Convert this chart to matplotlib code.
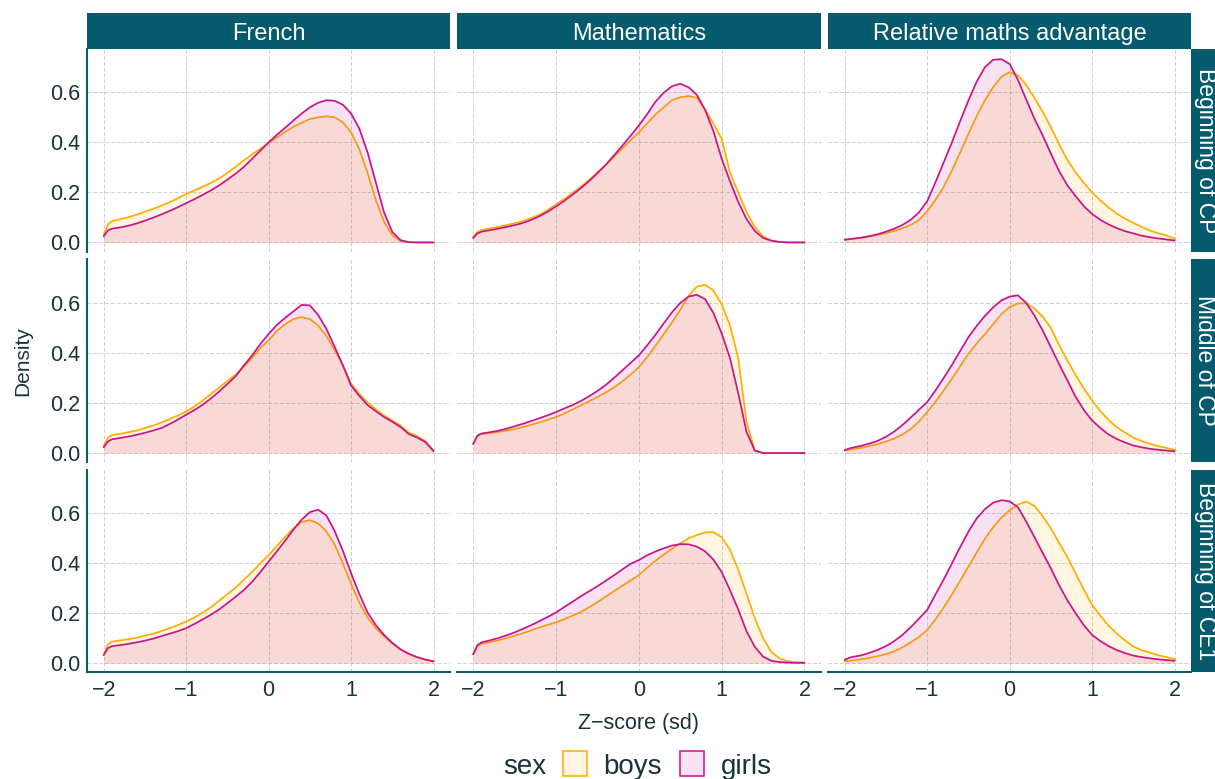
import matplotlib
matplotlib.use("Agg")
import matplotlib.pyplot as plt
from matplotlib.patches import Rectangle

plt.rcParams['font.family'] = ['Liberation Sans', 'DejaVu Sans']

# ---------------- data ----------------
X = [-2.0, -1.95, -1.9, -1.8, -1.7, -1.6, -1.5, -1.4, -1.3, -1.2, -1.1, -1.0,
     -0.9, -0.8, -0.7, -0.6, -0.5, -0.4, -0.3, -0.2, -0.1,
     0.0,
     0.1, 0.2, 0.3, 0.4, 0.5, 0.6, 0.7, 0.8, 0.9, 1.0,
     1.1, 1.2, 1.3, 1.4, 1.5, 1.6, 1.7, 1.8, 1.9, 2.0]

subjects = ["French", "Mathematics", "Relative maths advantage"]
periods = ["Beginning of CP", "Middle of CP", "Beginning of CE1"]
sexes = ["boys", "girls"]
x_ticks = [-2, -1, 0, 1, 2]
y_ticks = [0.0, 0.2, 0.4, 0.6]
y_tick_labels = ["0.0", "0.2", "0.4", "0.6"]

# Beginning of CP
FR1_B = [0.030, 0.072, 0.085, 0.093, 0.101, 0.111, 0.123, 0.134, 0.147, 0.161, 0.177, 0.194,
         0.208, 0.222, 0.238, 0.256, 0.278, 0.302, 0.328, 0.352, 0.375,
         0.397,
         0.420, 0.442, 0.462, 0.478, 0.493, 0.500, 0.504, 0.500, 0.480, 0.440,
         0.372, 0.278, 0.170, 0.082, 0.028, 0.006, 0.001, 0.0, 0.0, 0.0]
FR1_G = [0.025, 0.048, 0.055, 0.060, 0.067, 0.076, 0.087, 0.099, 0.112, 0.126, 0.141, 0.157,
         0.173, 0.190, 0.208, 0.228, 0.251, 0.275, 0.302, 0.334, 0.367,
         0.400,
         0.430, 0.458, 0.487, 0.515, 0.540, 0.558, 0.568, 0.566, 0.550, 0.515,
         0.455, 0.360, 0.240, 0.120, 0.042, 0.009, 0.001, 0.0, 0.0, 0.0]
MA1_B = [0.021, 0.042, 0.050, 0.056, 0.062, 0.069, 0.077, 0.086, 0.097, 0.111, 0.130, 0.152,
         0.174, 0.198, 0.223, 0.250, 0.280, 0.310, 0.342, 0.375, 0.408,
         0.440,
         0.476, 0.511, 0.540, 0.568, 0.580, 0.585, 0.578, 0.530, 0.475, 0.415,
         0.280, 0.200, 0.122, 0.062, 0.025, 0.008, 0.002, 0.0, 0.0, 0.0]
MA1_G = [0.018, 0.036, 0.043, 0.049, 0.055, 0.062, 0.069, 0.078, 0.090, 0.105, 0.123, 0.144,
         0.166, 0.191, 0.217, 0.245, 0.277, 0.310, 0.348, 0.386, 0.426,
         0.467,
         0.512, 0.562, 0.598, 0.624, 0.634, 0.620, 0.590, 0.530, 0.445, 0.335,
         0.245, 0.162, 0.094, 0.046, 0.018, 0.007, 0.002, 0.0, 0.0, 0.0]
RA1_B = [0.011, 0.013, 0.015, 0.019, 0.024, 0.030, 0.037, 0.046, 0.056, 0.070, 0.090, 0.125,
         0.170, 0.222, 0.288, 0.360, 0.434, 0.505, 0.568, 0.620, 0.662,
         0.680,
         0.668, 0.630, 0.578, 0.523, 0.460, 0.392, 0.330, 0.280, 0.238, 0.200,
         0.168, 0.140, 0.115, 0.095, 0.078, 0.062, 0.048, 0.037, 0.028, 0.016]
RA1_G = [0.011, 0.013, 0.015, 0.019, 0.025, 0.033, 0.043, 0.055, 0.070, 0.090, 0.120, 0.165,
         0.240, 0.320, 0.400, 0.485, 0.567, 0.642, 0.700, 0.730, 0.732,
         0.713,
         0.650, 0.572, 0.495, 0.428, 0.355, 0.285, 0.228, 0.185, 0.145, 0.114,
         0.090, 0.072, 0.057, 0.045, 0.036, 0.027, 0.021, 0.016, 0.012, 0.008]

# Middle of CP
FR2_B = [0.027, 0.062, 0.072, 0.077, 0.083, 0.090, 0.100, 0.110, 0.122, 0.136, 0.150, 0.166,
         0.186, 0.210, 0.236, 0.262, 0.288, 0.313, 0.345, 0.380, 0.420,
         0.450,
         0.488, 0.515, 0.535, 0.543, 0.535, 0.510, 0.468, 0.412, 0.352, 0.277,
         0.236, 0.202, 0.175, 0.150, 0.130, 0.110, 0.082, 0.068, 0.048, 0.010]
FR2_G = [0.024, 0.046, 0.055, 0.060, 0.066, 0.073, 0.081, 0.090, 0.100, 0.116, 0.134, 0.153,
         0.172, 0.193, 0.218, 0.246, 0.276, 0.307, 0.350, 0.390, 0.436,
         0.476,
         0.512, 0.540, 0.566, 0.592, 0.590, 0.552, 0.496, 0.425, 0.350, 0.270,
         0.228, 0.192, 0.167, 0.144, 0.125, 0.104, 0.076, 0.062, 0.044, 0.008]
MA2_B = [0.037, 0.068, 0.076, 0.080, 0.084, 0.089, 0.096, 0.104, 0.113, 0.123, 0.133, 0.144,
         0.158, 0.174, 0.191, 0.207, 0.224, 0.242, 0.262, 0.286, 0.313,
         0.343,
         0.383, 0.428, 0.475, 0.522, 0.572, 0.628, 0.665, 0.672, 0.650, 0.595,
         0.510, 0.380, 0.125, 0.010, 0.0, 0.0, 0.0, 0.0, 0.0, 0.0]
MA2_G = [0.037, 0.070, 0.078, 0.083, 0.089, 0.097, 0.107, 0.117, 0.128, 0.139, 0.151, 0.164,
         0.178, 0.192, 0.208, 0.227, 0.248, 0.272, 0.300, 0.330, 0.360,
         0.390,
         0.430, 0.472, 0.518, 0.562, 0.600, 0.625, 0.632, 0.615, 0.560, 0.478,
         0.380, 0.240, 0.085, 0.010, 0.0, 0.0, 0.0, 0.0, 0.0, 0.0]
RA2_B = [0.011, 0.013, 0.016, 0.021, 0.028, 0.036, 0.046, 0.058, 0.074, 0.096, 0.126, 0.164,
         0.205, 0.250, 0.297, 0.347, 0.397, 0.438, 0.475, 0.515, 0.555,
         0.583,
         0.598, 0.598, 0.578, 0.545, 0.500, 0.432, 0.370, 0.312, 0.258, 0.210,
         0.168, 0.132, 0.103, 0.082, 0.062, 0.048, 0.037, 0.028, 0.021, 0.013]
RA2_G = [0.011, 0.018, 0.022, 0.029, 0.038, 0.049, 0.065, 0.086, 0.112, 0.142, 0.173, 0.204,
         0.250, 0.300, 0.352, 0.408, 0.463, 0.508, 0.548, 0.582, 0.610,
         0.625,
         0.630, 0.600, 0.550, 0.490, 0.423, 0.355, 0.290, 0.225, 0.172, 0.130,
         0.100, 0.074, 0.056, 0.042, 0.030, 0.023, 0.017, 0.013, 0.010, 0.007]

# Beginning of CE1
FR3_B = [0.033, 0.075, 0.086, 0.091, 0.096, 0.102, 0.110, 0.118, 0.128, 0.140, 0.152, 0.167,
         0.183, 0.202, 0.224, 0.250, 0.276, 0.303, 0.334, 0.366, 0.400,
         0.433,
         0.470, 0.506, 0.540, 0.565, 0.573, 0.560, 0.528, 0.476, 0.400, 0.318,
         0.243, 0.183, 0.140, 0.107, 0.078, 0.055, 0.037, 0.024, 0.014, 0.007]
FR3_G = [0.033, 0.060, 0.068, 0.072, 0.077, 0.083, 0.090, 0.098, 0.108, 0.118, 0.128, 0.140,
         0.157, 0.175, 0.194, 0.215, 0.240, 0.266, 0.293, 0.326, 0.365,
         0.407,
         0.448, 0.490, 0.535, 0.575, 0.605, 0.615, 0.592, 0.530, 0.450, 0.360,
         0.277, 0.203, 0.152, 0.113, 0.081, 0.055, 0.037, 0.024, 0.014, 0.007]
MA3_B = [0.036, 0.068, 0.077, 0.084, 0.091, 0.100, 0.110, 0.120, 0.131, 0.143, 0.153, 0.163,
         0.176, 0.190, 0.205, 0.224, 0.244, 0.266, 0.288, 0.310, 0.331,
         0.353,
         0.382, 0.410, 0.435, 0.458, 0.480, 0.500, 0.513, 0.524, 0.525, 0.505,
         0.455, 0.375, 0.278, 0.180, 0.100, 0.045, 0.018, 0.007, 0.003, 0.002]
MA3_G = [0.036, 0.072, 0.083, 0.091, 0.100, 0.111, 0.123, 0.137, 0.152, 0.168, 0.185, 0.203,
         0.225, 0.246, 0.268, 0.288, 0.308, 0.330, 0.352, 0.375, 0.398,
         0.413,
         0.432, 0.447, 0.460, 0.471, 0.477, 0.476, 0.467, 0.448, 0.415, 0.365,
         0.293, 0.215, 0.128, 0.065, 0.026, 0.009, 0.004, 0.002, 0.001, 0.001]
RA3_B = [0.007, 0.009, 0.011, 0.015, 0.021, 0.028, 0.036, 0.047, 0.063, 0.083, 0.105, 0.133,
         0.175, 0.223, 0.275, 0.330, 0.387, 0.443, 0.498, 0.545, 0.583,
         0.612,
         0.635, 0.648, 0.630, 0.590, 0.540, 0.482, 0.425, 0.360, 0.295, 0.233,
         0.190, 0.150, 0.118, 0.091, 0.066, 0.052, 0.042, 0.032, 0.024, 0.016]
RA3_G = [0.013, 0.021, 0.025, 0.031, 0.041, 0.053, 0.068, 0.088, 0.113, 0.144, 0.178, 0.213,
         0.275, 0.335, 0.400, 0.465, 0.527, 0.580, 0.617, 0.643, 0.653,
         0.648,
         0.625, 0.568, 0.505, 0.442, 0.380, 0.312, 0.252, 0.200, 0.152, 0.113,
         0.088, 0.068, 0.052, 0.040, 0.030, 0.024, 0.019, 0.015, 0.012, 0.009]

curves = [
    [(FR1_B, FR1_G), (MA1_B, MA1_G), (RA1_B, RA1_G)],
    [(FR2_B, FR2_G), (MA2_B, MA2_G), (RA2_B, RA2_G)],
    [(FR3_B, FR3_G), (MA3_B, MA3_G), (RA3_B, RA3_G)],
]

# ---------------- styling ----------------
W, H = 1215, 779
BOY = "#FFAD00"
GIRL = "#C8148C"
FILL_ALPHA = 0.12
STRIP = "#055A6E"
AXIS = "#0F5A6B"
TXT = "#17343B"
GRID = "#C9D1D5"

col_px = [(87.3, 450.0), (456.7, 821.0), (828.3, 1191.0)]
row_px = [(48.7, 251.7), (259.3, 462.3), (470.0, 672.3)]


def rect(x0, x1, y0, y1):
    return [x0 / W, 1 - y1 / H, (x1 - x0) / W, (y1 - y0) / H]


fig = plt.figure(figsize=(W / 100, H / 100), dpi=100)

for r, (y0, y1) in enumerate(row_px):
    for c, (x0, x1) in enumerate(col_px):
        ax = fig.add_axes(rect(x0, x1, y0, y1))
        b, g = curves[r][c]
        ax.fill_between(X, 0, b, color=BOY, alpha=FILL_ALPHA, lw=0, zorder=2)
        ax.plot(X, b, color=BOY, lw=1.25, zorder=3, solid_joinstyle="round")
        ax.fill_between(X, 0, g, color=GIRL, alpha=FILL_ALPHA, lw=0, zorder=4)
        ax.plot(X, g, color=GIRL, lw=1.25, zorder=5, solid_joinstyle="round")
        ax.set_xlim(-2.2, 2.2)
        ax.set_ylim(-0.037, 0.774)
        ax.set_xticks(x_ticks)
        ax.set_yticks(y_ticks)
        ax.grid(True, color=GRID, linestyle=(0, (4, 2)), linewidth=0.7, zorder=0)
        ax.set_axisbelow(True)
        for s in ax.spines.values():
            s.set_visible(False)
        ax.tick_params(length=0)
        if c == 0:
            ax.spines["left"].set_visible(True)
            ax.spines["left"].set_color(AXIS)
            ax.spines["left"].set_linewidth(1.5)
            ax.set_yticklabels(y_tick_labels, fontsize=15.5, color=TXT)
            ax.tick_params(axis="y", pad=5)
        else:
            ax.set_yticklabels([])
        if r == 2:
            ax.spines["bottom"].set_visible(True)
            ax.spines["bottom"].set_color(AXIS)
            ax.spines["bottom"].set_linewidth(1.5)
            ax.set_xticklabels([str(v).replace("-", "\u2212") for v in x_ticks],
                               fontsize=15.5, color=TXT)
            ax.tick_params(axis="x", pad=5.5)
        else:
            ax.set_xticklabels([])

# top strips
for c, (x0, x1) in enumerate(col_px):
    fig.patches.append(Rectangle((x0 / W, 1 - 48.7 / H), (x1 - x0) / W, (48.7 - 13.3) / H,
                                 transform=fig.transFigure, facecolor=STRIP,
                                 edgecolor="none"))
    fig.text((x0 + x1) / 2 / W, 1 - 40.0 / H, subjects[c], color="white",
             fontsize=17, ha="center", va="baseline")

# right strips (the reference crops them at the right edge of the picture)
for r, (y0, y1) in enumerate(row_px):
    fig.patches.append(Rectangle((1191.0 / W, 1 - y1 / H), 40 / W, (y1 - y0) / H,
                                 transform=fig.transFigure, facecolor=STRIP,
                                 edgecolor="none"))
    fig.text(1205 / W, 1 - (y0 + y1) / 2 / H, periods[r], color="white",
             fontsize=16.5, ha="center", va="center", rotation=-90)

# axis titles
fig.text(22.5 / W, 1 - 361 / H, "Density", rotation=90, fontsize=15,
         color=TXT, ha="center", va="center")
fig.text(638.7 / W, 1 - 729.5 / H, "Z\u2212score (sd)", fontsize=15.5,
         color=TXT, ha="center", va="baseline")

# legend
fig.text(503 / W, 1 - 773.5 / H, "sex", fontsize=20, color=TXT, ha="left", va="baseline")
legend_boxes = [(563.3, BOY), (680.3, GIRL)]
legend_text_x = [603.5, 720.5]
for (bx, col), tx, lab in zip(legend_boxes, legend_text_x, sexes):
    fig.patches.append(Rectangle((bx / W, 1 - 776 / H), 24 / W, 25 / H,
                                 transform=fig.transFigure, facecolor=col,
                                 alpha=FILL_ALPHA, edgecolor="none"))
    fig.patches.append(Rectangle((bx / W, 1 - 776 / H), 24 / W, 25 / H,
                                 transform=fig.transFigure, facecolor="none",
                                 edgecolor=col, lw=1.1))
    fig.text(tx / W, 1 - 773.5 / H, lab, fontsize=20, color=TXT, ha="left", va="baseline")

fig.savefig("out.png", dpi=100)
